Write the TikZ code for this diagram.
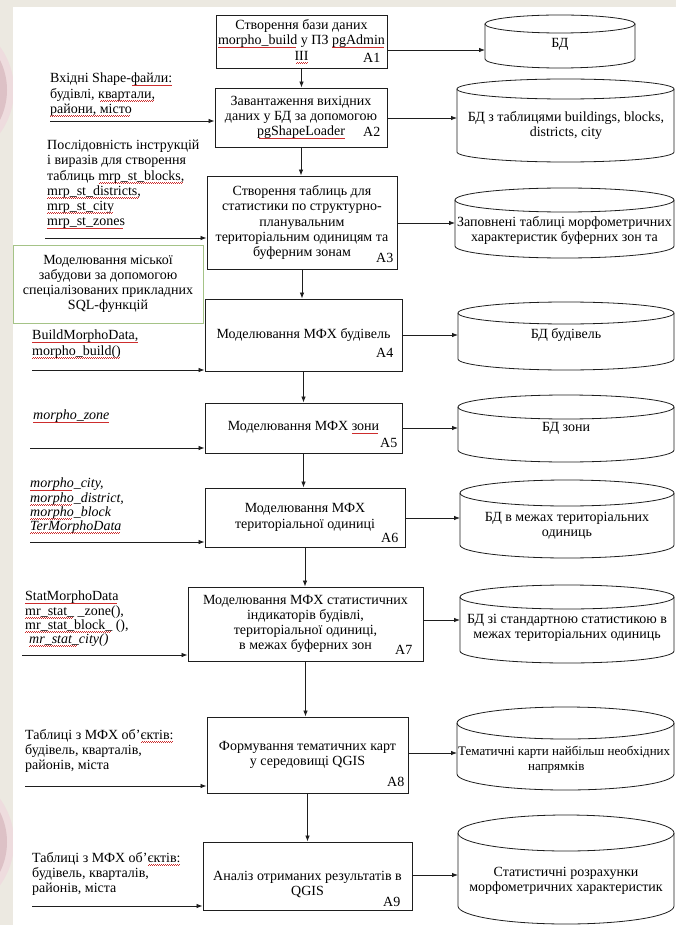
\documentclass[tikz,border=0pt]{standalone}
\usepackage{fontspec}
\setmainfont{Liberation Serif}
\usetikzlibrary{arrows.meta}

\definecolor{pagebg}{RGB}{236,233,225}
\definecolor{ink}{RGB}{30,30,30}
\definecolor{spell}{RGB}{205,45,45}
\definecolor{sqlgreen}{RGB}{165,195,135}
\definecolor{ornament}{RGB}{221,193,198}
\definecolor{ornamentlight}{RGB}{238,220,222}

% spell-checker style wavy underline
\newsavebox\sqbox
\newcommand\sqwave{\hbox{\raisebox{-3.2pt}{\rule{1pt}{0.7pt}}\raisebox{-2.5pt}{\rule{1pt}{0.7pt}}}}
\newcommand\sq[1]{\sbox\sqbox{#1}\rlap{\usebox\sqbox}{\color{spell}\leaders\sqwave\hskip\wd\sqbox}}

% database cylinder: x1, x2, top, bottom, ry
\newcommand\dbcyl[5]{%
  \pgfmathsetmacro\cylcx{(#1+#2)/2}%
  \pgfmathsetmacro\cylrx{(#2-#1)/2}%
  \draw[cylline] (#1,#3+#5) -- (#1,#4-#5)
    arc[start angle=180,end angle=0,x radius=\cylrx,y radius=#5] -- (#2,#3+#5);
  \draw[cylline] (\cylcx,#3+#5) ellipse[x radius=\cylrx,y radius=#5];
}

\tikzset{
  txt/.style={font=\fontsize{14}{15.2}\selectfont},
  proc/.style={txt,draw=ink,line width=0.9pt,align=center,inner sep=2pt},
  sqlbox/.style={txt,draw=sqlgreen,line width=0.9pt,align=center,inner sep=2pt},
  lbl/.style={txt,anchor=south east,inner sep=0pt},
  intext/.style={txt,anchor=north west,align=left,inner sep=0pt},
  cyltext/.style={txt,align=center,inner sep=0pt},
  cylline/.style={draw=ink,line width=0.8pt},
  arr/.style={draw=ink,line width=0.8pt,-{Latex[length=6pt,width=4.5pt]}},
}

\begin{document}
\begin{tikzpicture}[x=1pt,y=-1pt]
\useasboundingbox (0,0) rectangle (676,925);

% page background and side ornaments
\fill[pagebg] (0,0) rectangle (676,925);
\fill[ornamentlight] (-60,90) circle[radius=74];
\fill[ornament] (-60,90) circle[radius=67];
\fill[ornamentlight] (-60,842) circle[radius=74];
\fill[ornament] (-60,842) circle[radius=67];
\fill[white] (13,7) rectangle (676,925);

% process boxes
\node[proc,minimum width=171pt,minimum height=53pt] (A1) at (301.5,41.5)
  {Створення бази даних\\\sq{morpho\_build} у ПЗ \sq{pgAdmin}\\\sq{III}};
\node[proc,minimum width=172pt,minimum height=59pt] (A2) at (301,117.5)
  {Завантаження вихідних\\даних у БД за допомогою\\\sq{pgShapeLoader}};
\node[proc,minimum width=190pt,minimum height=93pt] (A3) at (302,222.5)
  {Створення таблиць для\\статистики по структурно-\\планувальним\\територіальним одиницям та\\буферним зонам};
\node[proc,minimum width=197pt,minimum height=72pt] (A4) at (303.5,335)
  {Моделювання МФХ будівель};
\node[proc,minimum width=197pt,minimum height=50pt] (A5) at (303.5,428)
  {Моделювання МФХ \sq{зони}};
\node[proc,minimum width=200pt,minimum height=59pt] (A6) at (305,517.5)
  {Моделювання МФХ\\територіальної одиниці};
\node[proc,minimum width=235pt,minimum height=74pt] (A7) at (305.5,624)
  {Моделювання МФХ статистичних\\індикаторів будівлі,\\територіальної одиниці,\\в межах буферних зон};
\node[proc,minimum width=201pt,minimum height=76pt] (A8) at (307.5,755)
  {Формування тематичних карт\\у середовищі QGIS};
\node[proc,minimum width=209pt,minimum height=68pt] (A9) at (307.5,876)
  {\rule{0pt}{27pt}Аналіз отриманих результатів в\\QGIS};

% box codes
\node[lbl] (A1l) at ([xshift=-7pt,yshift=5.5pt]A1.south east) {A1};
\node[lbl] (A2l) at ([xshift=-7pt,yshift=10.5pt]A2.south east) {A2};
\node[lbl] (A3l) at ([xshift=-4pt,yshift=6.5pt]A3.south east) {A3};
\node[lbl] (A4l) at ([xshift=-9pt,yshift=13.5pt]A4.south east) {A4};
\node[lbl] (A5l) at ([xshift=-5pt,yshift=5.5pt]A5.south east) {A5};
\node[lbl] (A6l) at ([xshift=-7pt,yshift=4.5pt]A6.south east) {A6};
\node[lbl] (A7l) at ([xshift=-11pt,yshift=6.5pt]A7.south east) {A7};
\node[lbl] (A8l) at ([xshift=-4pt,yshift=6.5pt]A8.south east) {A8};
\node[lbl] (A9l) at ([xshift=-12pt,yshift=4pt]A9.south east) {A9};

% SQL functions note
\node[sqlbox,minimum width=190pt,minimum height=78pt] (SQL) at (108,284)
  {Моделювання міської\\забудови за допомогою\\спеціалізованих прикладних\\SQL-функцій};

% databases
\dbcyl{485}{635}{15}{68}{9}
\dbcyl{457}{674}{79}{162}{10}
\dbcyl{455}{674}{188}{258}{12}
\dbcyl{458}{674}{302}{370}{11}
\dbcyl{458}{674}{395}{462}{12}
\dbcyl{460}{674}{480}{558}{13}
\dbcyl{460}{674}{585}{663}{12}
\dbcyl{457}{674}{707}{790}{16}
\dbcyl{458}{674}{815}{924}{18}

\node[cyltext] (C1) at (560,44) {БД};
\node[cyltext] (C2) at (566,125.5) {БД з таблицями buildings, blocks,\\districts, city};
\node[cyltext] (C3) at (564.5,230.5) {Заповнені таблиці морфометричних\\характеристик буферних зон та};
\node[cyltext] (C4) at (566,335) {БД будівель};
\node[cyltext] (C5) at (566,428) {БД зони};
\node[cyltext] (C6) at (567,526) {БД в межах територіальних\\одиниць};
\node[cyltext] (C7) at (567,628) {БД зі стандартною статистикою в\\межах територіальних одиниць};
\node[txt,font=\fontsize{13}{15.2}\selectfont,anchor=north west,align=left,inner sep=0pt] (C8) at (458,746)
  {Тематичні карти найбільш необхідних\\\hspace*{70pt}напрямків};
\node[cyltext] (C9) at (566,881) {Статистичні розрахунки\\морфометричних характеристик};

\coordinate (C1in) at (485,50);
\coordinate (C2in) at (457,118);
\coordinate (C3in) at (455,223);
\coordinate (C4in) at (458,335);
\coordinate (C5in) at (458,428);
\coordinate (C6in) at (460,518);
\coordinate (C7in) at (460,620);
\coordinate (C8in) at (457,753);
\coordinate (C9in) at (458,875);

% input descriptions
\node[intext] (I2) at (50,73) {Вхідні Shape-\sq{файли:}\\будівлі, \sq{квартали,}\\\sq{райони, місто}};
\node[intext] (I3) at (47,140) {Послідовність інструкцій\\і виразів для створення\\таблиць \sq{mrp\_st\_blocks,}\\\sq{mrp\_st\_districts,}\\\sq{mrp\_st\_city}\\\sq{mrp\_st\_zones}};
\node[intext] (I4) at (32,330) {\sq{BuildMorphoData,}\\\sq{morpho\_build()}};
\node[intext,font=\fontsize{14}{15.2}\selectfont\itshape] (I5) at (33,410) {\sq{morpho\_zone}};
\node[intext,font=\fontsize{14}{14.2}\selectfont\itshape] (I6) at (30,478) {\sq{morpho}\_city,\\\sq{morpho}\_district,\\\sq{morpho}\_block\\\sq{TerMorphoData}};
\node[intext,font=\fontsize{14}{14.2}\selectfont] (I7) at (25,591) {\sq{StatMorphoData}\\\sq{mr\_stat\_}\ \_zone(),\\\sq{mr\_stat\_block\_}\ (),\\\hspace*{4pt}\textit{\sq{mr\_stat\_}city()}};
\node[intext] (I8) at (25,729) {Таблиці з МФХ об’\sq{єктів:}\\будівель, кварталів,\\районів, міста};
\node[intext] (I9) at (32,852) {Таблиці з МФХ об’\sq{єктів:}\\будівель, кварталів,\\районів, міста};

\coordinate (I2s) at (50,121);
\coordinate (I3s) at (45,238);
\coordinate (I4s) at (32,370);
\coordinate (I5s) at (30,448);
\coordinate (I6s) at (30,542);
\coordinate (I7s) at (22,655);
\coordinate (I8s) at (25,786);
\coordinate (I9s) at (32,906);

% flow between steps
\draw[arr] (A1.south) -- (A2.north -| A1.south);
\draw[arr] (A2.south) -- (A3.north -| A2.south);
\draw[arr] (A3.south) -- (A4.north -| A3.south);
\draw[arr] (A4.south) -- (A5.north -| A4.south);
\draw[arr] (A5.south) -- (A6.north -| A5.south);
\draw[arr] (A6.south) -- (A7.north -| A6.south);
\draw[arr] (A7.south) -- (A8.north -| A7.south);
\draw[arr] (A8.south) -- (A9.north -| A8.south);

% outputs
\draw[arr] (A1.east |- C1in) -- (C1in);
\draw[arr] (A2.east |- C2in) -- (C2in);
\draw[arr] (A3.east |- C3in) -- (C3in);
\draw[arr] (A4.east |- C4in) -- (C4in);
\draw[arr] (A5.east |- C5in) -- (C5in);
\draw[arr] (A6.east |- C6in) -- (C6in);
\draw[arr] (A7.east |- C7in) -- (C7in);
\draw[arr] (A8.east |- C8in) -- (C8in);
\draw[arr] (A9.east |- C9in) -- (C9in);

% inputs
\draw[arr] (I2s) -- (I2s -| A2.west);
\draw[arr] (I3s) -- (I3s -| A3.west);
\draw[arr] (I4s) -- (I4s -| A4.west);
\draw[arr] (I5s) -- (I5s -| A5.west);
\draw[arr] (I6s) -- (I6s -| A6.west);
\draw[arr] (I7s) -- (I7s -| A7.west);
\draw[arr] (I8s) -- (I8s -| A8.west);
\draw[arr] (I9s) -- (I9s -| A9.west);
\end{tikzpicture}
\end{document}
